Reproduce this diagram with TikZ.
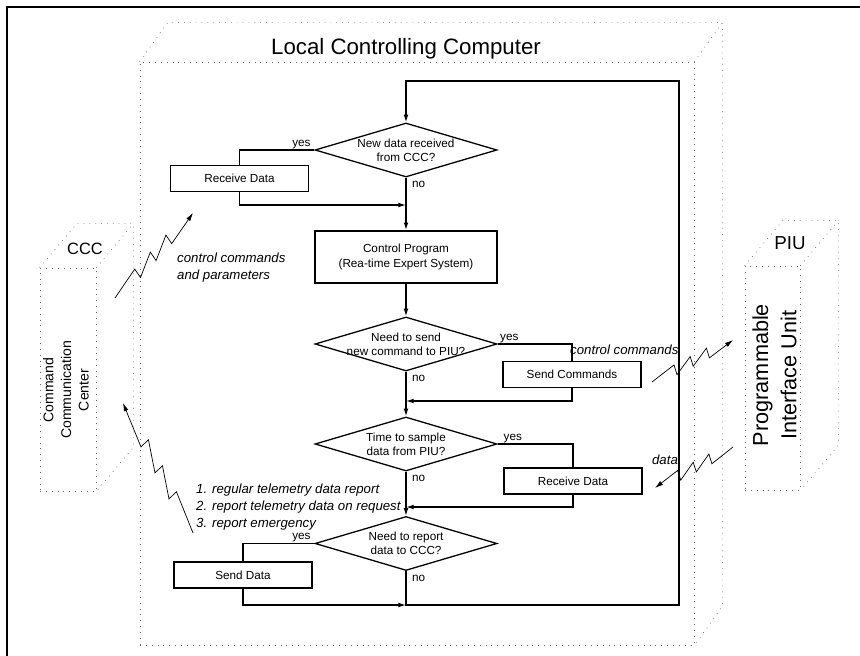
\documentclass[tikz,border=0pt]{standalone}
\usepackage{fontspec}
\setmainfont{Liberation Sans}
\usetikzlibrary{calc,positioning,shapes.geometric,arrows.meta}

\newcommand\flowfont{\fontsize{10}{12}\selectfont}
\newcommand\notefont{\fontsize{11.3}{14.5}\selectfont\itshape}
\newcommand\tagfont{\fontsize{16}{19}\selectfont}

% top and side faces of a dotted box, offset #2,#3 behind node #1
\newcommand\depthfaces[3]{%
  \draw[dotline] (#1.north west) -- ++(#2,#3) -- ($(#1.north east)+(#2,#3)$)
    -- ($(#1.south east)+(#2,#3)$) -- (#1.south east);
  \draw[dotline] (#1.north east) -- ++(#2,#3);}

% radio link: start, end, side of the front corners, side of the back corners
\newcommand\zaparrow[4]{%
  \draw[zapline] (#1)
    -- ($(#1)!.30!(#2)!.15cm!#3:(#2)$) -- ($(#1)!.28!(#2)!.15cm!#4:(#2)$)
    -- ($(#1)!.50!(#2)!.15cm!#3:(#2)$) -- ($(#1)!.48!(#2)!.15cm!#4:(#2)$)
    -- ($(#1)!.70!(#2)!.15cm!#3:(#2)$) -- ($(#1)!.68!(#2)!.15cm!#4:(#2)$)
    -- (#2);}

\tikzset{%
  >={Latex[length=6.5pt,width=4pt]},
  block/.style    = {rectangle, draw, line width=1.5pt, minimum width=4.14cm,
                     minimum height=.78cm, font=\flowfont, inner sep=1pt},
  decision/.style = {diamond, draw, line width=1.1pt, minimum width=5.46cm,
                     minimum height=1.62cm, inner sep=0pt},
  question/.style = {align=center, font=\flowfont, inner sep=0pt},
  line/.style     = {draw, line width=1pt},
  flow/.style     = {line, ->},
  answer/.style   = {font=\flowfont, inner sep=1pt},
  remark/.style   = {font=\notefont, align=left, inner sep=0pt},
  dotline/.style  = {draw=black!60, line width=.6pt, dash pattern=on .6pt off 4.4pt},
  zapline/.style  = {line width=.6pt, -{Latex[length=7pt,width=4pt]}},
  frame/.style    = {line width=1.1pt}
}

\begin{document}
\begin{tikzpicture}[x=.03cm,y=-.03cm]
\useasboundingbox (0,0) rectangle (860,656);

% page frame
\draw[frame] (7,656) -- (7,7) -- (860,7);

% the three units
\node[dotline, minimum width=16.62cm, minimum height=17.49cm] (lcc) at (417,353.5) {};
\depthfaces{lcc}{28}{-39}
\node[font=\fontsize{19}{23}\selectfont, anchor=base] (lcctitle) at (406,55) {Local Controlling Computer};

\node[dotline, minimum width=1.68cm, minimum height=6.69cm] (ccc) at (68,379.5) {};
\depthfaces{ccc}{37}{-44}
\node[font=\fontsize{14}{17}\selectfont, anchor=base] (ccctag) at (85,255) {CCC};
\node[font=\fontsize{12}{15}\selectfont, rotate=90, align=center] (cccname) at (66,390)
  {Command\\Communication\\Center};

\node[dotline, minimum width=1.65cm, minimum height=6.72cm] (piu) at (772.5,378) {};
\depthfaces{piu}{38}{-45}
\node[font=\tagfont, anchor=base] (piutag) at (790,250) {PIU};
\node[font=\fontsize{18.5}{24}\selectfont, rotate=90, align=center] (piuname) at (774.5,375)
  {Programmable\\Interface Unit};

% main loop
\node[decision, label={[question]center:{New data received\\from CCC?}}] (newdata) at (406,150) {};
\node[block, minimum width=5.46cm, minimum height=1.56cm, align=center] (ctrl) at (406,257)
  {Control Program\\(Rea-time Expert System)};
\node[decision, label={[question]center:{Need to send\\new command to PIU?}}] (needcmd) at (406,344) {};
\node[decision, label={[question]center:{Time to sample\\data from PIU?}}] (sample) at (406,444) {};
\node[decision, label={[question]center:{Need to report\\data to CCC?}}] (report) at (406,543.5) {};

\node[block] (getccc) at (239.5,178.5) {Receive Data};
\node[block] (sendcmd) at (572,374.5) {Send Commands};
\node[block] (getpiu) at (573,481) {Receive Data};
\node[block] (senddata) at (243,575) {Send Data};

\coordinate (join1) at (406,205);
\coordinate (join2) at (406,401);
\coordinate (join3) at (406,507);
\coordinate (join4) at (406,605);
\coordinate (loopbr) at (679,605);
\coordinate (looptl) at (406,81);

\draw[flow] (newdata) -- (ctrl);
\draw[flow] (ctrl) -- (needcmd);
\draw[flow] (needcmd) -- (sample);
\draw[flow] (sample) -- (report);
\draw[flow] (report.south) |- (loopbr) |- (looptl) -- (newdata.north);

\draw[line] (newdata.west) -| (getccc.north);
\draw[flow] (getccc.south) |- (join1);
\draw[line] (needcmd.east) -| (sendcmd.north);
\draw[flow] (sendcmd.south) |- (join2);
\draw[line] (sample.east) -| (getpiu.north);
\draw[flow] (getpiu.south) |- (join3);
\draw[line] (report.west) -| (senddata.north);
\draw[flow] (senddata.south) |- (join4);

\node[answer, above left=0pt and 2pt of newdata.west] (yes1) {yes};
\node[answer, above right=0pt and 1pt of needcmd.east] (yes2) {yes};
\node[answer, above right=0pt and 4pt of sample.east] (yes3) {yes};
\node[answer, above left=0pt and 2pt of report.west] (yes4) {yes};
\node[answer, below right=2pt and 4pt of newdata.south] (no1) {no};
\node[answer, below right=2pt and 4pt of needcmd.south] (no2) {no};
\node[answer, below right=2pt and 4pt of sample.south] (no3) {no};
\node[answer, below right=2pt and 4pt of report.south] (no4) {no};

% radio links
\node[remark, anchor=west] (uplink) at (177,268) {control commands\\and parameters};
\node[remark, anchor=west] (downlink) at (196,507)
  {1. regular telemetry data report\\2. report telemetry data on request\\3. report emergency};
\node[remark, anchor=west] (cmdlink) at (570,350) {control commands};
\node[remark] (datalink) at (665,460) {data};

\coordinate (z1a) at (115,298); \coordinate (z1b) at (193,213);
\coordinate (z2a) at (193,533); \coordinate (z2b) at (123,403);
\coordinate (z3a) at (652,382); \coordinate (z3b) at (733,340);
\coordinate (z4a) at (733,447); \coordinate (z4b) at (655,488);
\zaparrow{z1a}{z1b}{90}{-90}
\zaparrow{z2a}{z2b}{-90}{90}
\zaparrow{z3a}{z3b}{90}{-90}
\zaparrow{z4a}{z4b}{90}{-90}
\end{tikzpicture}
\end{document}
